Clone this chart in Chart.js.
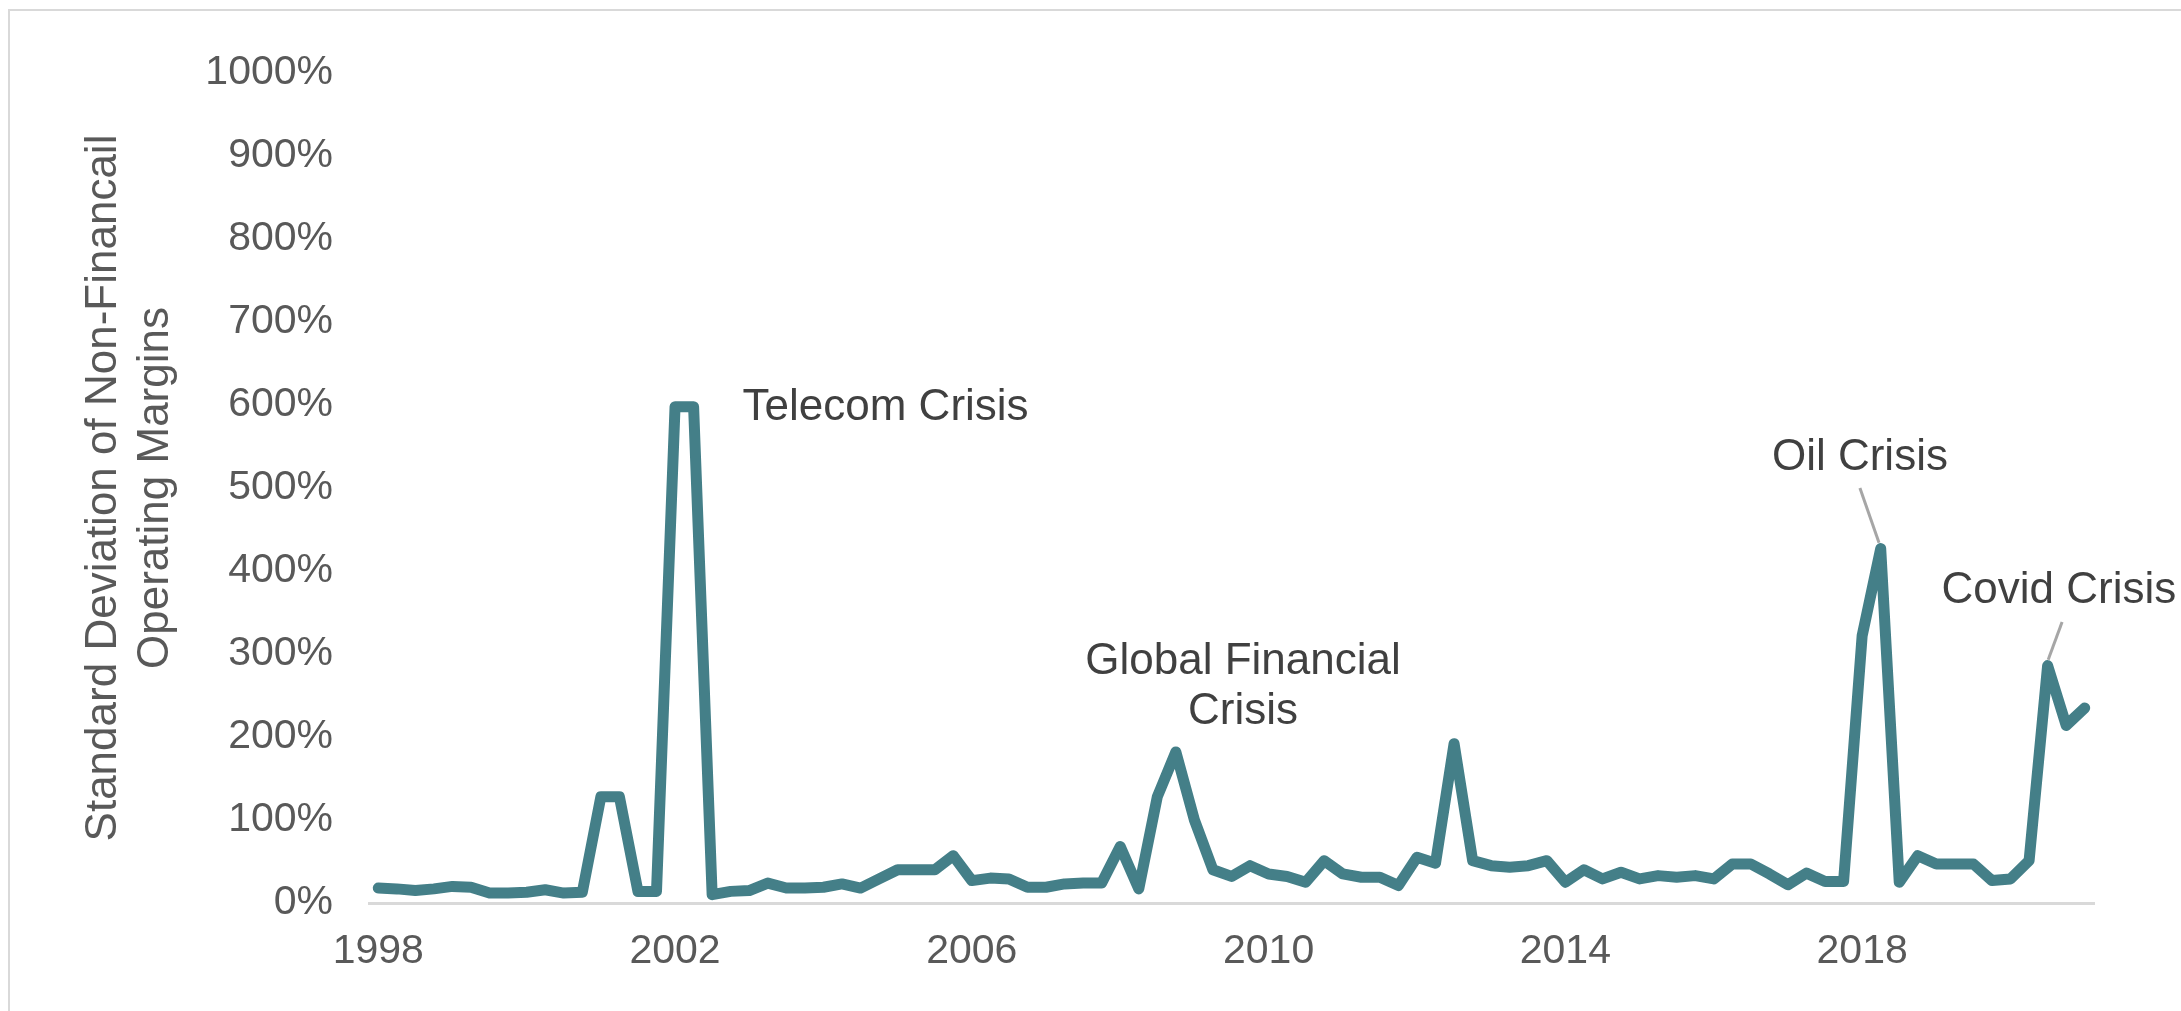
<!DOCTYPE html>
<html>
<head>
<meta charset="utf-8">
<script src="https://cdn.jsdelivr.net/npm/chart.js@4.4.1/dist/chart.umd.min.js"></script>
<style>
  html, body { margin: 0; padding: 0; background: #ffffff; overflow: hidden; }
  #wrap { position: relative; width: 2181px; height: 1011px; }
  #frame { position: absolute; left: 8px; top: 9px; width: 2300px; height: 1100px;
           border: 2px solid #d9d9d9; box-sizing: border-box; pointer-events: none; }
  canvas { position: absolute; left: 0; top: 0; }
</style>
</head>
<body>
<div id="wrap">
  <canvas id="chart" width="2181" height="1011"></canvas>
  <div id="frame"></div>
</div>
<script>
// Quarterly observations, 1998 Q1 through 2021 Q1
const years = [1998, 1999, 2000, 2001, 2002, 2003, 2004, 2005, 2006, 2007, 2008, 2009,
               2010, 2011, 2012, 2013, 2014, 2015, 2016, 2017, 2018, 2019, 2020, 2021];
const quarters = ['Q1', 'Q2', 'Q3', 'Q4'];
const lastQuarterCount = 1; // 2021 has only Q1

// Standard deviation of non-financial operating margins, in %
const stdDevPct = [
  18, 17, 15, 17, 20, 19, 12, 12, 13, 16, 12, 13,      // 1998-2000
  128, 128, 14, 14,                                    // 2001
  598, 598, 10, 14,                                    // 2002
  15, 24, 18, 18, 19, 23, 18, 29,                      // 2003-2004
  40, 40, 40, 57, 27, 30, 29, 19,                      // 2005-2006
  19, 23, 24, 24, 68, 17, 128, 182,                    // 2007-2008
  100, 40, 32, 45, 35, 32, 25, 51,                     // 2009-2010
  35, 31, 31, 21, 55, 48, 192, 51,                     // 2011-2012
  45, 43, 45, 51, 25, 40, 29, 37,                      // 2013-2014
  29, 33, 31, 33, 29, 47, 47, 35,                      // 2015-2016
  22, 36, 26, 26, 322, 427, 25, 57,                    // 2017-2018
  47, 47, 47, 27, 29, 51, 286, 214,                    // 2019-2020
  235                                                  // 2021
];

// Year labels shown on the category axis
const yearTicks = ['1998', '2002', '2006', '2010', '2014', '2018'];

// Y axis ticks
const yMin = 0, yMax = 1000, yStep = 100;

// Text callouts: centre index on the category axis, baseline value(s) on the y axis
const calloutText = [
  ['Telecom Crisis'],
  ['Global Financial', 'Crisis'],
  ['Oil Crisis'],
  ['Covid Crisis']
];
const calloutX = [27.35, 46.62, 79.88, 90.61];
const calloutY = [[582], [276, 215.7], [522], [362]];

// Leader lines from a callout to its peak: [x0, y0, x1, y1] in axis units
const leaderLines = [
  [79.88, 500, 80.91, 434],
  [90.78, 338.6, 90.03, 293]
];

const categories = [];
years.forEach((yr, yi) => {
  const n = yi === years.length - 1 ? lastQuarterCount : 4;
  for (let q = 0; q < n; q++) categories.push(yr + ' ' + quarters[q]);
});

const FONT = "'Liberation Sans', Arial, sans-serif";

const callouts = {
  id: 'callouts',
  beforeDatasetsDraw(chart) {
    const { ctx, scales: { x, y } } = chart;
    ctx.save();
    ctx.strokeStyle = '#a6a6a6';
    ctx.lineWidth = 3;
    leaderLines.forEach(([x0, y0, x1, y1]) => {
      ctx.beginPath();
      ctx.moveTo(x.getPixelForValue(x0), y.getPixelForValue(y0));
      ctx.lineTo(x.getPixelForValue(x1), y.getPixelForValue(y1));
      ctx.stroke();
    });
    ctx.restore();
  },
  afterDatasetsDraw(chart) {
    const { ctx, scales: { x, y } } = chart;
    ctx.save();
    ctx.font = '44px ' + FONT;
    ctx.fillStyle = '#404040';
    ctx.textAlign = 'center';
    ctx.textBaseline = 'alphabetic';
    calloutText.forEach((lines, i) => {
      lines.forEach((t, k) => {
        ctx.fillText(t, x.getPixelForValue(calloutX[i]), y.getPixelForValue(calloutY[i][k]));
      });
    });
    ctx.restore();
  }
};

new Chart(document.getElementById('chart'), {
  type: 'line',
  data: {
    labels: categories,
    datasets: [{
      data: stdDevPct,
      borderColor: '#447f88',
      borderWidth: 11,
      borderJoinStyle: 'round',
      borderCapStyle: 'round',
      pointRadius: 0,
      tension: 0,
      fill: false
    }]
  },
  options: {
    responsive: false,
    devicePixelRatio: 1,
    animation: false,
    layout: { padding: { left: 0, right: 87, top: 73, bottom: 0 } },
    plugins: { legend: { display: false }, tooltip: { enabled: false } },
    scales: {
      x: {
        type: 'category',
        offset: true,
        grid: { display: false, drawTicks: false },
        border: { display: true, color: '#d9d9d9', width: 3 },
        ticks: {
          autoSkip: false,
          maxRotation: 0,
          minRotation: 0,
          padding: 24,
          color: '#595959',
          font: { family: FONT, size: 41 },
          callback(value, index) {
            const yr = categories[index].slice(0, 4);
            return categories[index].endsWith('Q1') && yearTicks.includes(yr) ? yr : '';
          }
        },
        afterFit(scale) { scale.height = 108; }
      },
      y: {
        min: yMin,
        max: yMax,
        grid: { display: false, drawTicks: false },
        border: { display: false },
        ticks: {
          stepSize: yStep,
          padding: 36,
          color: '#595959',
          font: { family: FONT, size: 41 },
          callback: v => v + '%'
        },
        title: {
          display: true,
          text: ['Standard Deviation of Non-Financail', 'Operating Margins'],
          color: '#595959',
          font: { family: FONT, size: 44, lineHeight: 1.18 },
          padding: { top: 78, bottom: 0 }
        },
        afterFit(scale) { scale.width = 369; }
      }
    }
  },
  plugins: [callouts]
});
</script>
</body>
</html>
